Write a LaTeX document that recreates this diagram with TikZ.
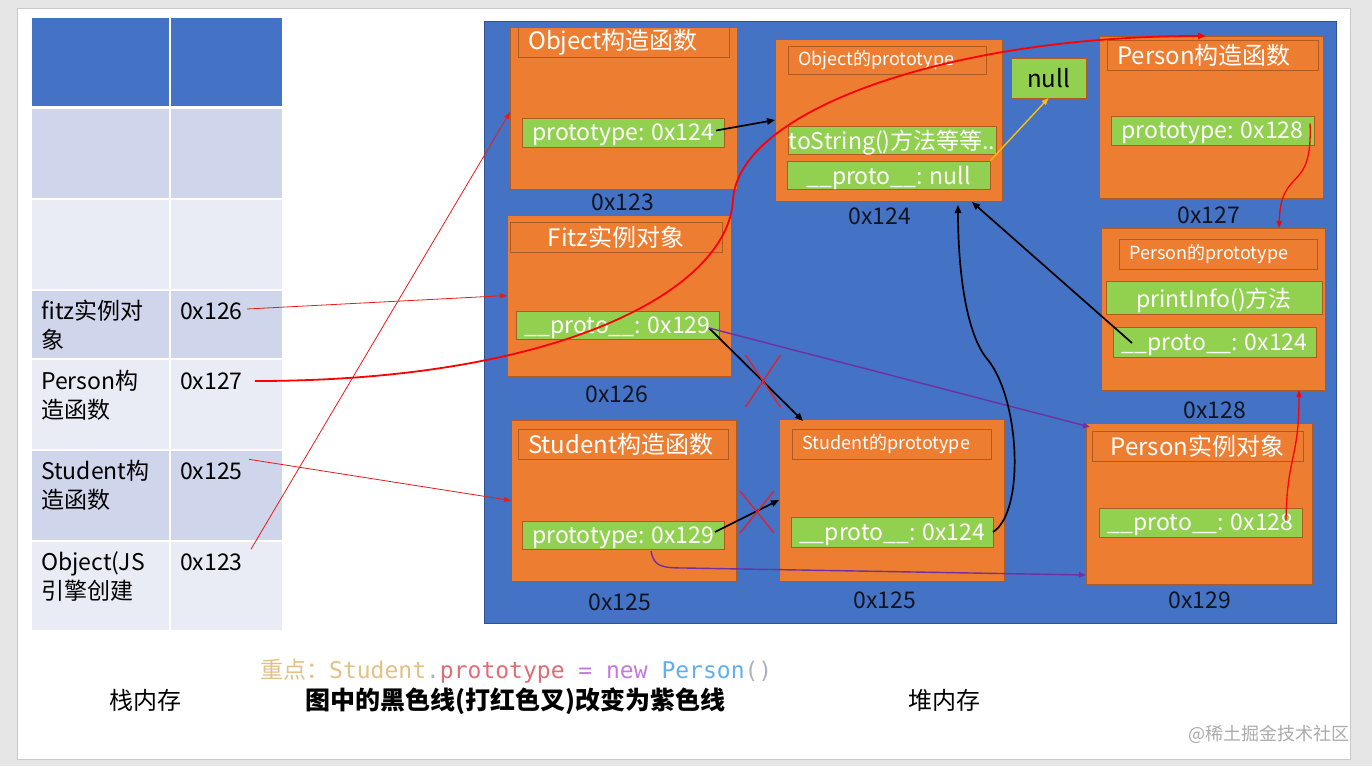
\documentclass[tikz,border=0pt]{standalone}
\usepackage{fontspec}
\setmainfont{Noto Sans CJK SC}
\setmonofont{DejaVu Sans Mono}
\newfontfamily\cjkf{Noto Sans CJK SC}
\usetikzlibrary{arrows.meta,fit,calc,shapes.misc}
\definecolor{pgbg}{HTML}{E6E6E6}
\definecolor{slidebd}{HTML}{C8C8C8}
\definecolor{tblue}{HTML}{4472C4}
\definecolor{tdark}{HTML}{CFD5EA}
\definecolor{tlight}{HTML}{E9EBF5}
\definecolor{heapbd}{HTML}{2F528F}
\definecolor{orbg}{HTML}{ED7D31}
\definecolor{orbd}{HTML}{AE5A21}
\definecolor{grbg}{HTML}{92D050}
\definecolor{lred}{HTML}{E81C1C}
\definecolor{xred}{HTML}{E0202A}
\definecolor{purp}{HTML}{7030A0}
\definecolor{yel}{HTML}{FFC000}
\definecolor{addrc}{HTML}{121420}
\definecolor{ctan}{HTML}{E3C184}
\definecolor{cred}{HTML}{E06C75}
\definecolor{cpur}{HTML}{C678DD}
\definecolor{cblue}{HTML}{61AFEF}
\definecolor{cgray}{HTML}{ABB2BF}
\definecolor{wmark}{HTML}{ABABAB}
\newcommand\fs[2]{\fontsize{#1}{#2}\selectfont}
\begin{document}
\begin{tikzpicture}[x=1pt,y=-1pt,
  cell/.style={rectangle, inner sep=0pt, outer sep=0pt, draw=none},
  box/.style={rectangle, inner sep=0pt, outer sep=0pt, fill=orbg, draw=orbd, line width=0.7pt},
  ttl/.style={rectangle, inner sep=0pt, outer sep=0pt, draw=orbd, line width=0.7pt},
  grn/.style={rectangle, inner sep=0pt, outer sep=0pt, fill=grbg, draw=orbd, line width=0.7pt},
  gtxt/.style={text=white, inner sep=0pt, font=\fs{23}{27}, yshift=-2.5pt},
  wtxt/.style={text=white, inner sep=0pt, font=\fs{24}{28}},
  stxt/.style={text=white, inner sep=0pt, font=\fs{18}{22}},
  addr/.style={text=addrc, inner sep=0pt, font=\fs{23}{27}},
  ttxt/.style={text=black, inner sep=0pt, align=left, font=\fs{23}{29}},
  rthin/.style={draw=lred, line width=0.8pt, -{Triangle[length=7pt,width=5pt]}},
  rthick/.style={draw=red, line width=1.8pt, -{Triangle[length=8pt,width=6pt]}},
  rmid/.style={draw=red, line width=1.3pt, -{Triangle[length=7pt,width=5pt]}},
  blk/.style={draw=black, line width=1.7pt, -{Triangle[length=8pt,width=6.5pt]}},
  pur/.style={draw=purp, line width=1.4pt, -{Triangle[length=7pt,width=5.5pt]}},
  yar/.style={draw=yel, line width=1.4pt, -{Triangle[length=7pt,width=5.5pt]}},
  xmark/.style={cross out, draw=xred, line width=1.3pt, inner sep=0pt, outer sep=0pt}
]
\useasboundingbox (0,0) rectangle (1372,766);
\fill[pgbg] (0,0) rectangle (1372,766);
\node[rectangle, inner sep=0pt, fill=white, draw=slidebd, line width=0.8pt, fit={(17,8) (1350,759)}] (slide) {};

% ---------- stack table ----------
\node[cell, fill=tblue, fit={(32,18) (169,106)}] (c11) {};
\node[cell, fill=tblue, fit={(171,18) (282,106)}] (c12) {};
\node[cell, fill=tdark, fit={(32,109) (169,198)}] (c21) {};
\node[cell, fill=tdark, fit={(171,109) (282,198)}] (c22) {};
\node[cell, fill=tlight, fit={(32,200) (169,289)}] (c31) {};
\node[cell, fill=tlight, fit={(171,200) (282,289)}] (c32) {};
\node[cell, fill=tdark, fit={(32,291) (169,358)}] (c41) {};
\node[cell, fill=tdark, fit={(171,291) (282,358)}] (c42) {};
\node[cell, fill=tlight, fit={(32,360) (169,449)}] (c51) {};
\node[cell, fill=tlight, fit={(171,360) (282,449)}] (c52) {};
\node[cell, fill=tdark, fit={(32,451) (169,540)}] (c61) {};
\node[cell, fill=tdark, fit={(171,451) (282,540)}] (c62) {};
\node[cell, fill=tlight, fit={(32,542) (169,630)}] (c71) {};
\node[cell, fill=tlight, fit={(171,542) (282,630)}] (c72) {};

\node[ttxt, anchor=west] (t4) at (41,325.5) {fitz实例对\\象};
\node[ttxt, anchor=west] (t5) at (41,395.5) {Person构\\造函数};
\node[ttxt, anchor=west] (t6) at (41,485.5) {Student构\\造函数};
\node[ttxt, anchor=west] (t7) at (41,576.5) {Object(JS\\引擎创建};
\node[ttxt, anchor=west] (n126) at (180,311) {0x126};
\node[ttxt, anchor=west] (n127) at (180,381) {0x127};
\node[ttxt, anchor=west] (n125) at (180,471) {0x125};
\node[ttxt, anchor=west] (n123) at (180,562) {0x123};

% ---------- heap ----------
\node[rectangle, inner sep=0pt, outer sep=0pt, fill=tblue, draw=heapbd, line width=0.8pt, fit={(484,21) (1336,623)}] (heap) {};

% Object constructor
\node[box, fit={(510,27) (737,189)}] (objc) {};
\node[ttl, fit={(518,27) (729,57)}] (objcT) {};
\node[wtxt, anchor=west] (objcTt) at ($(objcT.west)+(10,0)$) {Object构造函数};
\node[grn, fit={(522,118) (724,147)}] (objcP) {};
\node[gtxt] (objcPt) at (objcP.center) {prototype: 0x124};
\node[addr] (l123) at (623,202) {0x123};

% Object prototype
\node[box, fit={(775,39) (1002,201)}] (opro) {};
\node[ttl, fit={(788,46) (986,74)}] (oproT) {};
\node[stxt, anchor=west] (oproTt) at ($(oproT.west)+(10,0)$) {Object的prototype};
\node[grn, fit={(788,126) (996,154)}] (oproS) {};
\node[gtxt] (oproSt) at (oproS.center) {toString()方法等等..};
\node[grn, fit={(787,161) (990,189)}] (oproN) {};
\node[gtxt] (oproNt) at (oproN.center) {\_\_proto\_\_: null};
\node[addr] (l124) at (880,216) {0x124};

% null
\node[grn, fit={(1011,58) (1086,98)}] (nullb) {};
\node[inner sep=0pt, font=\fs{24}{28}] (nullt) at (nullb.center) {null};

% Person constructor
\node[box, fit={(1099,36) (1323,198)}] (personc) {};
\node[ttl, fit={(1107,40) (1318,70)}] (personcT) {};
\node[wtxt, anchor=west] (personcTt) at ($(personcT.west)+(10,0)$) {Person构造函数};
\node[grn, fit={(1111,116) (1314,145)}] (pcP) {};
\node[gtxt] (pcPt) at (pcP.center) {prototype: 0x128};
\node[addr] (l127) at (1209,215) {0x127};

% Fitz instance
\node[box, fit={(507,215) (731,376)}] (fitz) {};
\node[ttl, fit={(510,222) (722,252)}] (fitzT) {};
\node[wtxt] (fitzTt) at (fitzT.center) {Fitz实例对象};
\node[grn, fit={(516,311) (719,339)}] (fitzP) {};
\node[gtxt] (fitzPt) at (fitzP.center) {\_\_proto\_\_: 0x129};
\node[addr] (l126) at (617,394) {0x126};

% Person prototype
\node[box, fit={(1101,228) (1325,390)}] (ppro) {};
\node[ttl, fit={(1119,239) (1317,269)}] (pproT) {};
\node[stxt, anchor=west] (pproTt) at ($(pproT.west)+(10,0)$) {Person的prototype};
\node[grn, fit={(1106,281) (1322,314)}] (pproI) {};
\node[gtxt] (pproIt) at (pproI.center) {printInfo()方法};
\node[grn, fit={(1113,327) (1316,357)}] (pproP) {};
\node[gtxt] (pproPt) at (pproP.center) {\_\_proto\_\_: 0x124};
\node[addr] (l128) at (1215,410) {0x128};

% Student constructor
\node[box, fit={(511,420) (736,581)}] (stc) {};
\node[ttl, fit={(518,429) (728,459)}] (stcT) {};
\node[wtxt, anchor=west] (stcTt) at ($(stcT.west)+(10,0)$) {Student构造函数};
\node[grn, fit={(522,521) (724,549)}] (stcP) {};
\node[gtxt] (stcPt) at (stcP.center) {prototype: 0x129};
\node[addr] (l125a) at (620,602) {0x125};

% Student prototype
\node[box, fit={(779,419) (1004,581)}] (spro) {};
\node[ttl, fit={(792,429) (991,459)}] (sproT) {};
\node[stxt, anchor=west] (sproTt) at ($(sproT.west)+(10,0)$) {Student的prototype};
\node[grn, fit={(791,517) (993,547)}] (sproP) {};
\node[gtxt] (sproPt) at (sproP.center) {\_\_proto\_\_: 0x124};
\node[addr] (l125b) at (885,600) {0x125};

% Person instance
\node[box, fit={(1086,423) (1312,584)}] (pi) {};
\node[ttl, fit={(1092,431) (1303,461)}] (piT) {};
\node[wtxt] (piTt) at (piT.center) {Person实例对象};
\node[grn, fit={(1099,508) (1302,537)}] (piP) {};
\node[gtxt] (piPt) at (piP.center) {\_\_proto\_\_: 0x128};
\node[addr] (l129) at (1200,600) {0x129};

% ---------- connectors ----------
\draw[rthin] ($(n123.north east)+(8,-4)$) -- ($(objc.west)+(0,4)$);
\draw[rthin] ($(n126.east)+(4,-2)$) -- (fitz.west);
\draw[rthin] ($(n125.north east)+(6,-3)$) -- (stc.west);
\draw[rthick] ($(n127.east)+(12,0)$) .. controls (560,381) and (728,290) .. (733,200)
   .. controls (738,110) and (950,36) .. ($(personc.north)+(-5,0)$);
\draw[rmid] ($(pcP.east)+(-4,-7)$) .. controls (1313,195) and (1281,165) .. ($(ppro.north east)+(-46,0)$);
\draw[rmid] ($(piP.east)+(-16,-2)$) .. controls (1287,455) and (1299,460) .. ($(ppro.south east)+(-26,0)$);

\draw[blk] ($(objcP.east)+(-8,-2)$) -- (opro.west);
\draw[yar] ($(oproN.east)+(0,-14)$) -- (nullb.south);
\draw[blk] ($(fitzP.east)+(-10,3)$) -- ($(spro.north west)+(24,2)$);
\draw[blk] ($(stcP.east)+(-9,-3)$) -- (spro.west);
\draw[pur] ($(fitzP.east)+(-10,3)$) -- ($(pi.north west)+(4,4)$);
\draw[pur] ($(stcP.south)+(28,2)$) .. controls (654,566) and (660,568) .. (685,568)
   -- ($(pi.south west)+(0,-9)$);
\draw[blk] (sproP.east) .. controls (1025,512) and (1020,400) .. (988,360)
   .. controls (966,335) and (958,270) .. ($(opro.south east)+(-44,4)$);
\draw[blk] ($(pproP.west)+(19,1)$) -- ($(opro.south east)+(-30,1)$);

\node[xmark, minimum width=35, minimum height=52] (x1) at (763,381) {};
\node[xmark, minimum width=34, minimum height=42] (x2) at (757,512) {};

% ---------- bottom texts ----------
\node[inner sep=0pt, font=\fs{24}{28}] (stk) at (145,700) {栈内存};
\node[inner sep=0pt, font=\fs{24}{28}] (hp) at (944,700) {堆内存};
\node[inner sep=0pt, anchor=west] (code) at (260,671)
  {{\fs{23}{26}\color{ctan}重点：}{\fs{23}{26}\ttfamily\color{ctan}Student\color{cgray}.\color{cred}prototype\ \color{cpur}=\ new\ \color{cblue}Person\color{cgray}()}};
\node[inner sep=0pt, font=\fs{25}{30}\bfseries] (note) at (515,701) {图中的黑色线(打红色叉)改变为紫色线};
\node[inner sep=0pt, anchor=east, text=wmark, font=\fs{18}{22}] (wm) at (1350,734) {@稀土掘金技术社区};
\end{tikzpicture}
\end{document}
